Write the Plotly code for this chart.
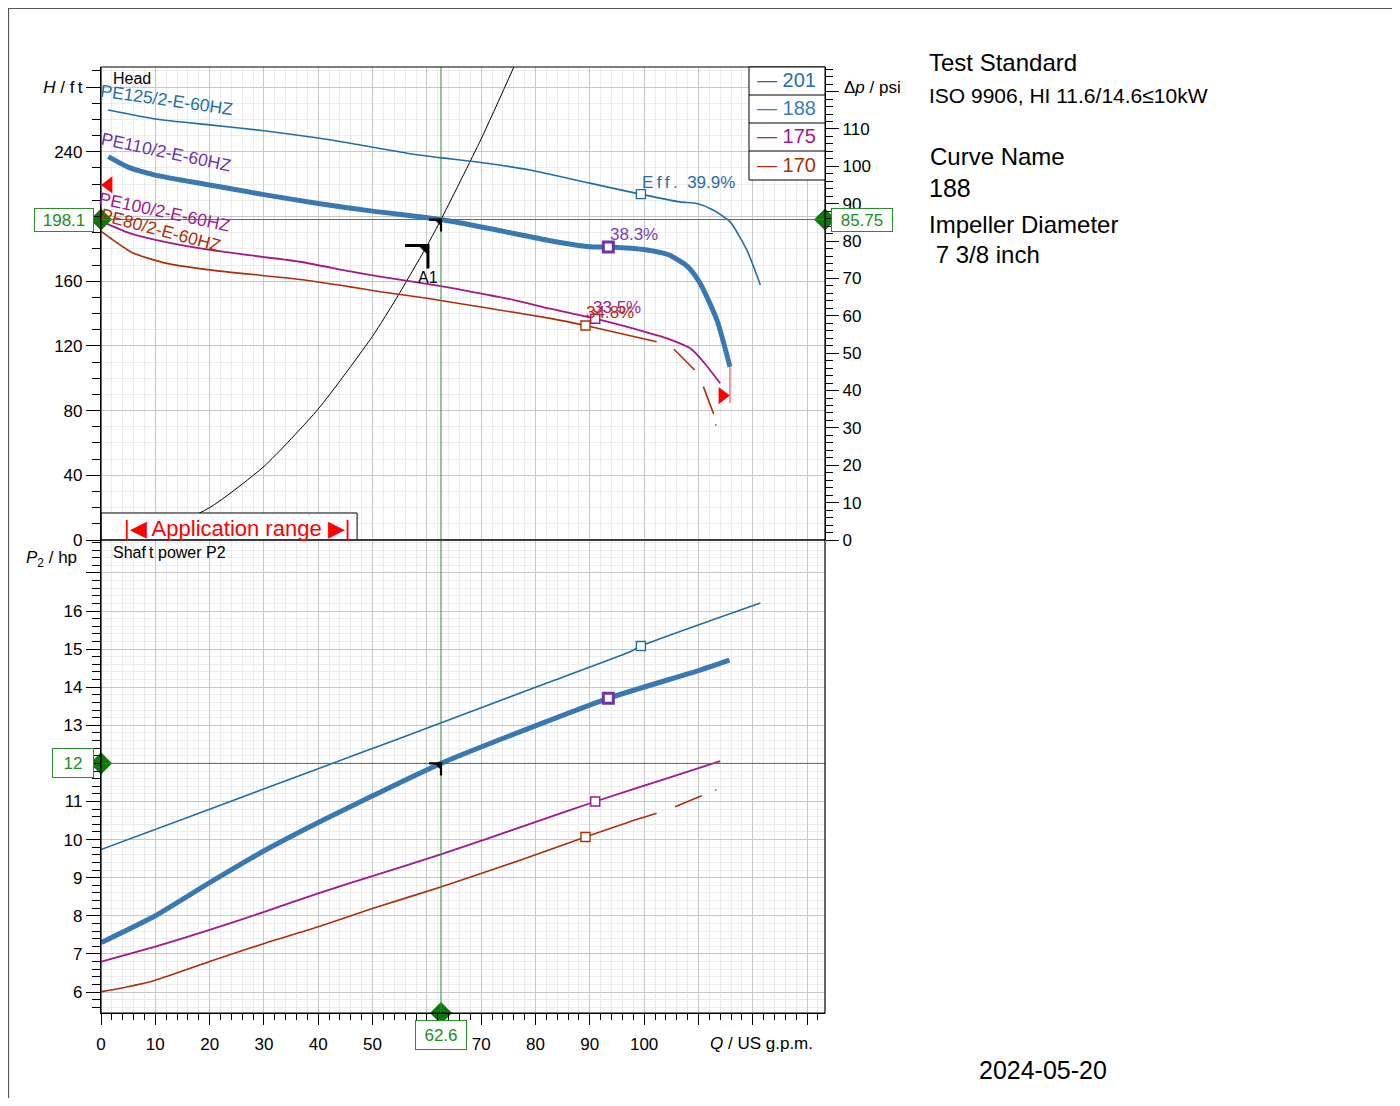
import plotly.graph_objects as go

# ---------------- data ----------------
# Head curves, Q in US gpm, H in ft
q_201 = [1.3, 10, 20, 30, 40, 45.9, 57.5, 62.4, 71, 79, 90, 99.3, 106.6, 109.7, 112.7, 115.8, 118.9, 121.4]
h_201 = [265.8, 260.3, 256.6, 253.0, 248.5, 245.3, 238.5, 236.4, 232.9, 228.7, 220.6, 213.8, 209.0, 208.0, 204.0, 196.8, 179.3, 157.7]

q_188 = [1.35, 5, 10, 20, 30, 40, 50, 62.6, 72.9, 82, 90, 93.4, 100.5, 104.5, 108, 110.3, 113.4, 115.8]
h_188 = [237.0, 230.5, 225.6, 219.5, 213.5, 208.0, 203.3, 198.1, 191.6, 185.5, 181.3, 181.1, 179.3, 176.3, 169.0, 158.7, 136.0, 107.1]

q_175 = [0.4, 5, 10, 20, 36.6, 45.9, 51.4, 62.6, 69.8, 75.9, 82.7, 91, 101.1, 104.2, 108.5, 110.9, 114]
h_175 = [196.5, 190.0, 185.5, 179.3, 172.0, 166.0, 162.8, 157.0, 152.5, 148.5, 143.0, 136.8, 127.8, 124.7, 118.5, 110.2, 96.9]

q_170 = [0.1, 1.7, 5.9, 12.1, 20, 36.6, 45.9, 51.4, 60, 70, 82.7, 89.2, 102.3, None, 105.5, 109.3, None, 110.9, 112.8, None, 113.1, 113.3]
h_170 = [190.6, 186.7, 177.4, 171.0, 167.0, 161.0, 156.5, 153.5, 149.4, 144.0, 137.0, 132.6, 122.6, None, 117.9, 105.1, None, 94.8, 77.9, None, 71.3, 70.9]

# Shaft power curves, P2 in hp
pq_201 = [0, 20, 42.2, 54.1, 80, 97.4, 99.4, 121.4]
p_201 = [9.74, 10.80, 11.98, 12.61, 14.00, 14.93, 15.08, 16.21]

pq_188 = [0.1, 10, 20, 30.2, 40, 50, 62.6, 80.2, 93.4, 110.3, 115.7]
p_188 = [7.30, 8.00, 8.87, 9.72, 10.45, 11.15, 12.00, 13.00, 13.71, 14.45, 14.71]

pq_175 = [0.1, 10, 20, 30.2, 40, 50.1, 62.7, 80.2, 91, 104.2, 114]
p_175 = [6.80, 7.19, 7.63, 8.11, 8.59, 9.05, 9.62, 10.47, 11.00, 11.61, 12.06]

pq_170 = [0.1, 5, 10, 20, 30.2, 40, 50.1, 62.7, 77.8, 89.2, 97.4, 102.3, None, 105.7, 110.6, None, 113.1, 113.3]
p_170 = [6.01, 6.14, 6.31, 6.80, 7.28, 7.71, 8.20, 8.76, 9.49, 10.07, 10.47, 10.69, None, 10.86, 11.15, None, 11.31, 11.29]

# System curve
sys_q = [0, 10, 20, 30, 40, 50, 54.5, 60.2, 62.6, 70, 76.5]
sys_h = [0, 5, 20, 45.5, 81, 126, 150, 183, 198.1, 248, 296]

# Efficiency points
eff_q = [99.4, 93.4, 91.0, 89.2]
eff_h = [213.8, 181.1, 136.8, 132.6]
eff_p = [15.08, 13.71, 11.00, 10.07]
eff_text = ["E\u2009f\u2009f\u2009.  39.9%", "38.3%", "33.5%", "34.8%"]

# Operating point and A1
op_q, op_h, op_p = 62.6, 198.1, 12.0
op_q_text, op_h_text, op_p_text, op_psi_text = "62.6", "198.1", "12", "85.75"
a1_q, a1_h = 60.2, 182.0

# Application range
app_min_q, app_min_h = 1.4, 219.5
app_max_q, app_max_h = 114.4, 89.3
app_end_q = 115.8
app_end_h = [107.1, 84.7]

# Legend / labels
legend_names = ["201", "188", "175", "170"]
curve_labels = ["PE125/2-E-60HZ", "PE110/2-E-60HZ", "PE100/2-E-60HZ", "PE80/2-E-60HZ"]
x_ticks = list(range(0, 140, 10))
x_tick_text = ["0", "10", "20", "30", "40", "50", " ", "70", "80", "90", "100", " ", " ", " "]

# ---------------- styling ----------------
FONT = "Liberation Sans, Arial, sans-serif"
C201 = "#1f6fa6"
C188 = "#3a78b2"
C188_LEG = "#3a7cbc"
C175 = "#a3188e"
C170 = "#ad2e08"
CPUR = "#6a35ad"
GREEN = "#2a8f2a"
GREEN_D = "#0b7a0b"
GRID = "#c8c8c8"
GRID_MINOR = "#ececec"

OFF = 8                       # page body margin of the html page
FIG_W, FIG_H = 1400 - 2 * OFF, 1106 - 2 * OFF
PL, PR, PT, PB = 101, 825, 67, 1013   # plot area in page pixels
Q_MAX = 133.3
H_MAX = 292.4
FT_PER_PSI = 2.31
P_MIN, P_MAX = 5.449, 17.864


def px(x):
    return (x - PL) / (PR - PL)


def py(y):
    return (PB - y) / (PB - PT)


SPL = dict(shape="spline", smoothing=0.6)

fig = go.Figure()

# top panel (head)
fig.add_trace(go.Scatter(x=sys_q, y=sys_h, xaxis="x2", yaxis="y", mode="lines",
                         line=dict(color="black", width=1, **SPL)))
fig.add_trace(go.Scatter(x=q_201, y=h_201, xaxis="x2", yaxis="y", mode="lines",
                         line=dict(color=C201, width=1.6, **SPL)))
fig.add_trace(go.Scatter(x=q_175, y=h_175, xaxis="x2", yaxis="y", mode="lines",
                         line=dict(color=C175, width=1.8, **SPL)))
fig.add_trace(go.Scatter(x=q_170, y=h_170, xaxis="x2", yaxis="y", mode="lines",
                         line=dict(color=C170, width=1.6, **SPL), connectgaps=False))
fig.add_trace(go.Scatter(x=q_188, y=h_188, xaxis="x2", yaxis="y", mode="lines",
                         line=dict(color=C188, width=5, **SPL)))
fig.add_trace(go.Scatter(x=[app_end_q, app_end_q], y=app_end_h, xaxis="x2", yaxis="y",
                         mode="lines", line=dict(color="#ff3030", width=1)))
# dummy for psi axis
fig.add_trace(go.Scatter(x=[0], y=[0], xaxis="x2", yaxis="y2", mode="markers",
                         marker=dict(opacity=0), hoverinfo="skip"))

# bottom panel (power)
fig.add_trace(go.Scatter(x=pq_201, y=p_201, xaxis="x", yaxis="y3", mode="lines",
                         line=dict(color=C201, width=1.6, **SPL)))
fig.add_trace(go.Scatter(x=pq_175, y=p_175, xaxis="x", yaxis="y3", mode="lines",
                         line=dict(color=C175, width=1.8, **SPL)))
fig.add_trace(go.Scatter(x=pq_170, y=p_170, xaxis="x", yaxis="y3", mode="lines",
                         line=dict(color=C170, width=1.6, **SPL), connectgaps=False))
fig.add_trace(go.Scatter(x=pq_188, y=p_188, xaxis="x", yaxis="y3", mode="lines",
                         line=dict(color=C188, width=5, **SPL)))

# efficiency squares
eff_cols = [C201, CPUR, C175, C170]
eff_sizes = [9, 10, 9, 9]
eff_lw = [1.4, 3, 1.4, 1.4]
for i in range(4):
    for xa, ya, yv in (("x2", "y", eff_h[i]), ("x", "y3", eff_p[i])):
        fig.add_trace(go.Scatter(x=[eff_q[i]], y=[yv], xaxis=xa, yaxis=ya, mode="markers",
                                 marker=dict(symbol="square", size=eff_sizes[i], color="white",
                                             line=dict(color=eff_cols[i], width=eff_lw[i]))))

# application range triangles
fig.add_trace(go.Scatter(x=[app_min_q], y=[app_min_h], xaxis="x2", yaxis="y", mode="markers",
                         marker=dict(symbol="triangle-left", size=15, color="#ff0000"), cliponaxis=False))
fig.add_trace(go.Scatter(x=[app_max_q], y=[app_max_h], xaxis="x2", yaxis="y", mode="markers",
                         marker=dict(symbol="triangle-right", size=15, color="#ff0000"), cliponaxis=False))

# green diamonds
fig.add_trace(go.Scatter(x=[0, Q_MAX], y=[op_h, op_h], xaxis="x2", yaxis="y", mode="markers",
                         marker=dict(symbol="diamond", size=17, color=GREEN_D), cliponaxis=False))
fig.add_trace(go.Scatter(x=[0, op_q], y=[op_p, P_MIN], xaxis="x", yaxis="y3", mode="markers",
                         marker=dict(symbol="diamond", size=17, color=GREEN_D), cliponaxis=False))

# ---------------- shapes ----------------
shapes = []
shapes.append(dict(type="rect", xref="x2", yref="y", x0=0, x1=47.15, y0=0, y1=16.7,
                   fillcolor="white", line=dict(color="black", width=1), layer="above"))
shapes.append(dict(type="line", xref="x", yref="paper", x0=op_q, x1=op_q, y0=0, y1=1,
                   line=dict(color=GREEN, width=1), layer="above"))
shapes.append(dict(type="line", xref="paper", yref="y", x0=0, x1=1, y0=op_h, y1=op_h,
                   line=dict(color=GREEN, width=1), layer="above"))
shapes.append(dict(type="line", xref="paper", yref="y3", x0=0, x1=1, y0=op_p, y1=op_p,
                   line=dict(color=GREEN, width=1), layer="above"))
shapes.append(dict(type="line", xref="paper", yref="paper", x0=0, x1=1, y0=0.5, y1=0.5,
                   line=dict(color="#3a3a3a", width=2), layer="above"))
shapes.append(dict(type="rect", xref="paper", yref="paper", x0=0, x1=1, y0=0, y1=1,
                   line=dict(color="black", width=1.2), layer="above"))
for xa, ya, xv, yv, L, T, w in (("x2", "y", a1_q, a1_h, 23, 9, 3),
                                ("x2", "y", op_q, op_h, 12, 6, 2.2),
                                ("x", "y3", op_q, op_p, 12, 6, 2.2)):
    shapes.append(dict(type="path", xref=xa, yref=ya, xsizemode="pixel", ysizemode="pixel",
                       xanchor=xv, yanchor=yv, path=f"M {-L} 0 L 0 0 L 0 {-L}",
                       line=dict(color="black", width=w), layer="above"))
    shapes.append(dict(type="path", xref=xa, yref=ya, xsizemode="pixel", ysizemode="pixel",
                       xanchor=xv, yanchor=yv, path=f"M {-T} 0 L 0 0 L 0 {-T} Z",
                       fillcolor="black", line=dict(color="black", width=1), layer="above"))
# legend box
shapes.append(dict(type="rect", xref="paper", yref="paper", x0=px(749), x1=px(825),
                   y0=py(180), y1=py(67), fillcolor="white", line=dict(color="black", width=1),
                   layer="above"))
for yy in (95, 123, 151):
    shapes.append(dict(type="line", xref="paper", yref="paper", x0=px(749), x1=px(825),
                       y0=py(yy), y1=py(yy), line=dict(color="black", width=1), layer="above"))
# outer frame (left and top)
shapes.append(dict(type="line", xref="paper", yref="paper", x0=px(8.5), x1=px(8.5), y0=py(8), y1=py(1098),
                   line=dict(color="#555555", width=1.2)))
shapes.append(dict(type="line", xref="paper", yref="paper", x0=px(8), x1=px(1392), y0=py(8.5), y1=py(8.5),
                   line=dict(color="#555555", width=1.2)))

# ---------------- annotations ----------------
ann = []


def text(x, y, s, size=17, color="black", xanchor="left", yanchor="middle", xref="paper",
         yref="paper", **kw):
    ann.append(dict(x=x, y=y, xref=xref, yref=yref, text=s, showarrow=False, xanchor=xanchor,
                    yanchor=yanchor, font=dict(family=FONT, size=size, color=color), **kw))


# right info text
text(px(927), py(63), "Test Standard", size=24)
text(px(927), py(95), "ISO 9906, HI 11.6/14.6≤10kW", size=21)
text(px(928), py(157), "Curve Name", size=24)
text(px(927), py(188), "188", size=25)
text(px(927), py(224), "Impeller Diameter", size=24)
text(px(927), py(254), " 7 3/8 inch", size=24)
text(px(1043), py(1070), "2024-05-20", size=25, xanchor="center")

# panel titles and axis titles
text(px(111), py(78), "Head", size=16)
text(px(111), py(552), "Shaf\u2009t power P2", size=16)
text(px(24), py(559), "<i>P</i><sub>2</sub> / hp", size=17)
text(px(708), py(1043), "<i>Q</i> / US g.p.m.", size=17)
text(px(842), py(87), "Δ<i>p</i> / psi", size=17)

# legend entries
leg_cols = [C201, C188_LEG, C175, C170]
for i, yy in enumerate((80, 108, 136, 165)):
    text(px(755), py(yy), "— " + legend_names[i], size=20, color=leg_cols[i])

# curve labels
lab_cols = [C201, CPUR, C175, C170]
lab_pos = [(167, 100), (165.5, 152.5), (165, 211.5), (160.5, 229.5)]
lab_ang = [8, 12, 12, 15]
for i in range(4):
    text(px(lab_pos[i][0]), py(lab_pos[i][1]), curve_labels[i], size=17.5, color=lab_cols[i],
         xanchor="center", textangle=lab_ang[i])

# efficiency labels
eff_lab_cols = [C201, "#7440bd", C175, C170]
eff_shift = [(-1, 12), (0, 13), (-4, 11), (-1, 13)]
for i in range(4):
    text(eff_q[i], eff_h[i], eff_text[i], size=17, color=eff_lab_cols[i], xref="x2", yref="y",
         xshift=eff_shift[i][0], yshift=eff_shift[i][1])

# A1
text(a1_q, a1_h, "A1", size=16, xref="x2", yref="y", xanchor="center", yshift=-32)

# application range
text(23.6, 8.35, "|◀ Application range ▶|", size=22, color="#ff0000", xref="x2", yref="y",
     xanchor="center", xshift=8, yshift=-2)

# green value boxes
box = dict(bgcolor="white", bordercolor=GREEN, borderwidth=1, borderpad=2)
text(0, op_h, op_h_text, size=17, color="#1e8c1e", xref="x2", yref="y", xanchor="right",
     xshift=-7, width=54, height=18, **box)
text(1, op_h, op_psi_text, size=17, color="#1e8c1e", xref="paper", yref="y", xanchor="left",
     xshift=6, width=56, height=18, **box)
text(0, op_p, op_p_text, size=17, color="#1e8c1e", xref="x", yref="y3", xanchor="right",
     xshift=-7, width=36, height=24, **box)
text(op_q, 0, op_q_text, size=17, color="#1e8c1e", xref="x", yref="paper", xanchor="center",
     yanchor="top", yshift=-7, width=46, height=24, **box)

# ---------------- axes ----------------
tickfont = dict(family=FONT, size=17, color="black")
minor_x = dict(tickmode="linear", tick0=0, dtick=2, ticks="outside", ticklen=6, tickcolor="black",
               showgrid=True, gridcolor=GRID_MINOR, gridwidth=1)

fig.update_layout(
    width=FIG_W, height=FIG_H,
    margin=dict(l=PL - OFF, r=FIG_W - (PR - OFF), t=PT - OFF, b=FIG_H - (PB - OFF), pad=0),
    paper_bgcolor="white", plot_bgcolor="white",
    showlegend=False,
    font=dict(family=FONT),
    xaxis=dict(domain=[0, 1], anchor="y3", range=[0, Q_MAX], tickmode="array", tickvals=x_ticks,
               ticktext=x_tick_text,
               ticks="outside", ticklen=11, tickwidth=1.3, tickcolor="black",
               showgrid=True, gridcolor=GRID, gridwidth=1, zeroline=False,
               showline=True, linecolor="black", linewidth=1.2, minor=minor_x,
               tickfont=tickfont, ticklabelstandoff=4),
    xaxis2=dict(domain=[0, 1], anchor="y", range=[0, Q_MAX], matches="x", showticklabels=False,
                ticks="", tickmode="linear", tick0=0, dtick=10,
                showgrid=True, gridcolor=GRID, gridwidth=1, zeroline=False, showline=False,
                minor=dict(tickmode="linear", tick0=0, dtick=2, showgrid=True,
                           gridcolor=GRID_MINOR, gridwidth=1, ticks="")),
    yaxis=dict(domain=[0.5, 1], anchor="x2", range=[0, H_MAX], tickmode="linear", tick0=0, dtick=40,
               ticks="outside", ticklen=14, tickwidth=1.3, tickcolor="black",
               showgrid=True, gridcolor=GRID, gridwidth=1, zeroline=False,
               showline=True, linecolor="black", linewidth=1.2,
               minor=dict(tickmode="linear", tick0=0, dtick=10, ticks="outside", ticklen=8,
                          tickcolor="black", showgrid=True, gridcolor=GRID_MINOR, gridwidth=1),
               labelalias={"280": "<i>H</i> / f\u2009t", "200": " "}, tickfont=tickfont),
    yaxis2=dict(overlaying="y", side="right", anchor="x2", range=[0, H_MAX / FT_PER_PSI],
                tickmode="linear", tick0=0, dtick=10, ticks="outside", ticklen=13, tickwidth=1.3,
                tickcolor="black", showgrid=False, zeroline=False, showline=True,
                linecolor="black", linewidth=1.2,
                minor=dict(tickmode="linear", tick0=0, dtick=2, ticks="outside", ticklen=7,
                           tickcolor="black", showgrid=False),
                labelalias={"120": " "}, tickfont=tickfont),
    yaxis3=dict(domain=[0, 0.5], anchor="x", range=[P_MIN, P_MAX], tickmode="linear", tick0=0,
                dtick=1, ticks="outside", ticklen=14, tickwidth=1.3, tickcolor="black",
                showgrid=True, gridcolor=GRID, gridwidth=1, zeroline=False,
                showline=True, linecolor="black", linewidth=1.2,
                minor=dict(tickmode="linear", tick0=0, dtick=0.2, ticks="outside", ticklen=8,
                           tickcolor="black", showgrid=True, gridcolor=GRID_MINOR, gridwidth=1),
                labelalias={"17": " ", "12": " "}, tickfont=tickfont),
    shapes=shapes,
    annotations=ann,
)

fig.write_html("out.html")
